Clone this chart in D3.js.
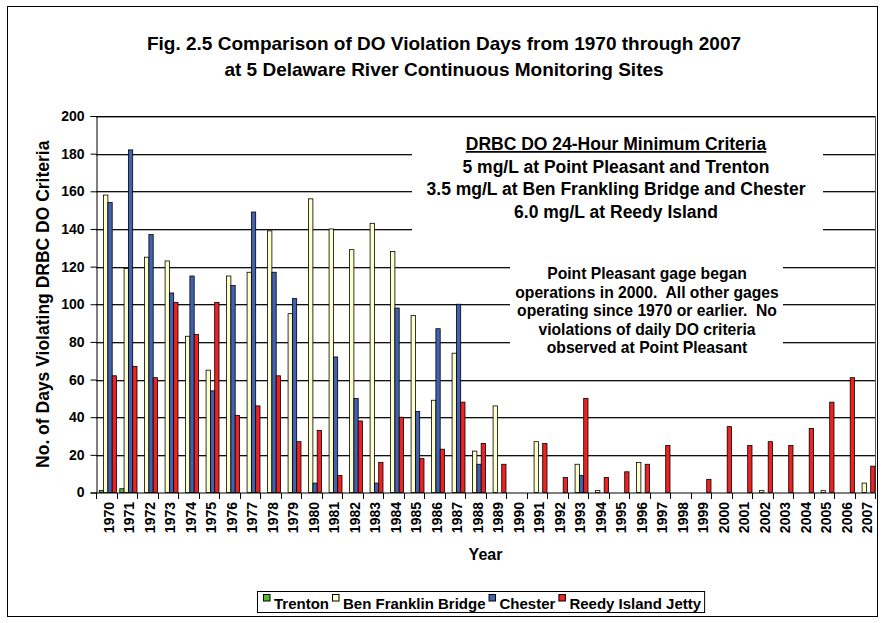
<!DOCTYPE html>
<html>
<head>
<meta charset="utf-8">
<script src="https://cdn.jsdelivr.net/npm/d3@7"></script>
<style>
html,body{margin:0;padding:0;background:#fff;}
svg{display:block;font-family:"Liberation Sans",Arial,sans-serif;font-weight:bold;}
</style>
</head>
<body>
<svg id="chart" width="892" height="623"></svg>
<script>
// ---- data ----
const years = ["1970","1971","1972","1973","1974","1975","1976","1977","1978","1979",
  "1980","1981","1982","1983","1984","1985","1986","1987","1988","1989",
  "1990","1991","1992","1993","1994","1995","1996","1997","1998","1999",
  "2000","2001","2002","2003","2004","2005","2006","2007"];
const seriesNames = ["Trenton","Ben Franklin Bridge","Chester","Reedy Island Jetty"];
const trenton = [1,2,0,0,0,0,0,0,0,0, 0,0,0,0,0,0,0,0,0,0, 0,0,0,0,0,0,0,0,0,0, 0,0,0,0,0,0,0,0];
const benFranklin = [158,119,125,123,83,65,115,117,139,95, 156,140,129,143,128,94,49,74,22,46, 0,27,0,15,1,0,16,0,0,0, 0,0,1,0,0,1,0,5];
const chester = [154,182,137,106,115,54,110,149,117,103, 5,72,50,5,98,43,87,100,15,0, 0,0,0,9,0,0,0,0,0,0, 0,0,0,0,0,0,0,0];
const reedy = [62,67,61,101,84,101,41,46,62,27, 33,9,38,16,40,18,23,48,26,15, 0,26,8,50,8,11,15,25,0,7, 35,25,27,25,34,48,61,14];
const yTicks = [0,20,40,60,80,100,120,140,160,180,200];
const titleLines = ["Fig. 2.5 Comparison of DO Violation Days from 1970 through 2007",
  "at 5 Delaware River Continuous Monitoring Sites"];
const criteriaLines = ["DRBC DO 24-Hour Minimum Criteria","5 mg/L at Point Pleasant and Trenton",
  "3.5 mg/L at Ben Frankling Bridge and Chester","6.0 mg/L at Reedy Island"];
const noteLines = ["Point Pleasant gage began","operations in 2000.  All other gages",
  "operating since 1970 or earlier.  No","violations of daily DO criteria","observed at Point Pleasant"];
const colors = ["#55BB33","#FFFFCC","#4262B0","#EE2222"];

const seriesData = [trenton, benFranklin, chester, reedy];
const table = years.map((yr,i)=>({year:yr, values: seriesData.map((s,k)=>({k, v:s[i]}))}));

// ---- layout ----
const svg = d3.select("#chart");
const W=892,H=623;
const plotL=96, plotR=875, plotT=116, plotB=492.5;

svg.append("rect").attr("x",0).attr("y",0).attr("width",W).attr("height",H).attr("fill","#fff");
// chart frame
svg.append("rect").attr("x",7.5).attr("y",6.5).attr("width",870).attr("height",610)
  .attr("fill","#fff").attr("stroke","#000").attr("stroke-width",1);

const x = d3.scaleBand().domain(years).range([plotL,plotR]).padding(0);
const bw = x.bandwidth();
const xs = d3.scaleBand().domain(d3.range(4)).range([bw*0.16, bw]).padding(0);
const y = d3.scaleLinear().domain([0,200]).range([plotB,plotT]);

// gridlines
const grid = svg.append("g");
yTicks.filter(t=>t>0 && t<200).forEach(t=>{
  grid.append("line").attr("x1",plotL).attr("x2",plotR).attr("y1",Math.round(y(t))+1.5).attr("y2",Math.round(y(t))+1.5)
    .attr("stroke","#b0b0b0").attr("stroke-width",1);
  grid.append("line").attr("x1",plotL).attr("x2",plotR).attr("y1",Math.round(y(t))+0.5).attr("y2",Math.round(y(t))+0.5)
    .attr("stroke","#111").attr("stroke-width",1);
});
// plot border (top/right grey)
svg.append("line").attr("x1",plotL).attr("x2",plotR).attr("y1",plotT+0.5).attr("y2",plotT+0.5).attr("stroke","#000").attr("stroke-width",1);
svg.append("line").attr("x1",plotL).attr("x2",plotR).attr("y1",plotT+1.5).attr("y2",plotT+1.5).attr("stroke","#999").attr("stroke-width",1);
svg.append("line").attr("x1",plotR+0.5).attr("x2",plotR+0.5).attr("y1",plotT).attr("y2",plotB).attr("stroke","#555").attr("stroke-width",1);

// text box backgrounds (white, hide gridlines)
svg.append("rect").attr("x",412).attr("y",121).attr("width",411).attr("height",113).attr("fill","#fff");
svg.append("rect").attr("x",510).attr("y",260).attr("width",273).attr("height",100).attr("fill","#fff");

// bars
const groups = svg.append("g").selectAll("g").data(table).join("g")
  .attr("transform",d=>`translate(${x(d.year)},0)`);
groups.selectAll("rect").data(d=>d.values.filter(e=>e.v>0)).join("rect")
  .attr("x",e=>xs(e.k)).attr("width",xs.bandwidth())
  .attr("y",e=>y(e.v)).attr("height",e=>plotB-y(e.v))
  .attr("fill",e=>colors[e.k]).attr("stroke","#000").attr("stroke-width",0.8);

// y axis
const yAxis = svg.append("g").attr("transform",`translate(${plotL+0.5},0)`)
  .call(d3.axisLeft(y).tickValues(yTicks).tickSize(6).tickPadding(6));
yAxis.select(".domain").attr("stroke","#000");
yAxis.selectAll(".tick line").attr("stroke","#000");
yAxis.selectAll(".tick text").attr("font-size","14px").attr("font-weight","bold")
  .attr("font-family","Liberation Sans, Arial, sans-serif").attr("fill","#000");

// x axis
const xAxisG = svg.append("g").attr("transform",`translate(0,${plotB+0.5})`);
xAxisG.append("line").attr("x1",plotL).attr("x2",plotR).attr("stroke","#000");
xAxisG.selectAll("line.tk").data(years.concat(["end"])).join("line").attr("class","tk")
  .attr("x1",(d,i)=>Math.round(plotL+i*bw)+0.5).attr("x2",(d,i)=>Math.round(plotL+i*bw)+0.5)
  .attr("y1",0).attr("y2",6).attr("stroke","#000");
xAxisG.selectAll("text").data(years).join("text")
  .attr("transform",d=>`translate(${x(d)+bw/2+2.5},9) rotate(-90)`)
  .attr("text-anchor","end").attr("dy","0.36em")
  .attr("font-size","14px").text(d=>d);

// axis titles
svg.append("text").attr("x",(plotL+plotR)/2).attr("y",560).attr("text-anchor","middle")
  .attr("font-size","16px").text("Year");
svg.append("text").attr("transform",`translate(49,${(plotT+plotB)/2}) rotate(-90)`)
  .attr("text-anchor","middle").attr("font-size","17.5px").text("No. of Days Violating DRBC DO Criteria");

// chart title
svg.selectAll("text.title").data(titleLines).join("text").attr("class","title")
  .attr("x",444).attr("y",(d,i)=>50+i*26).attr("text-anchor","middle")
  .attr("font-size","19px")
  .text(d=>d);

// criteria box
svg.selectAll("text.crit").data(criteriaLines).join("text").attr("class","crit")
  .attr("x",616).attr("y",(d,i)=>150+i*22.7).attr("text-anchor","middle")
  .attr("font-size","17.5px")
  .attr("text-decoration",(d,i)=>i===0?"underline":null)
  .text(d=>d);

// note box
svg.selectAll("text.note").data(noteLines).join("text").attr("class","note")
  .attr("x",647).attr("y",(d,i)=>279+i*18.5).attr("text-anchor","middle")
  .attr("font-size","15.7px").style("white-space","pre")
  .text(d=>d);

// legend
const leg = svg.append("g");
const legBox = leg.append("rect").attr("y",591.5).attr("height",21).attr("fill","#fff").attr("stroke","#000");
let cx = 263;
seriesNames.forEach((n,k)=>{
  leg.append("rect").attr("x",cx+0.5).attr("y",594.5).attr("width",6.5).attr("height",6.5)
    .attr("fill",colors[k]).attr("stroke","#000");
  const t = leg.append("text").attr("x",cx+11).attr("y",609).attr("font-size","15px")
    .text(n);
  const w = t.node().getComputedTextLength();
  cx = cx + 11 + w + 3;
});
legBox.attr("x",257.5).attr("width",cx-257);
</script>
</body>
</html>
